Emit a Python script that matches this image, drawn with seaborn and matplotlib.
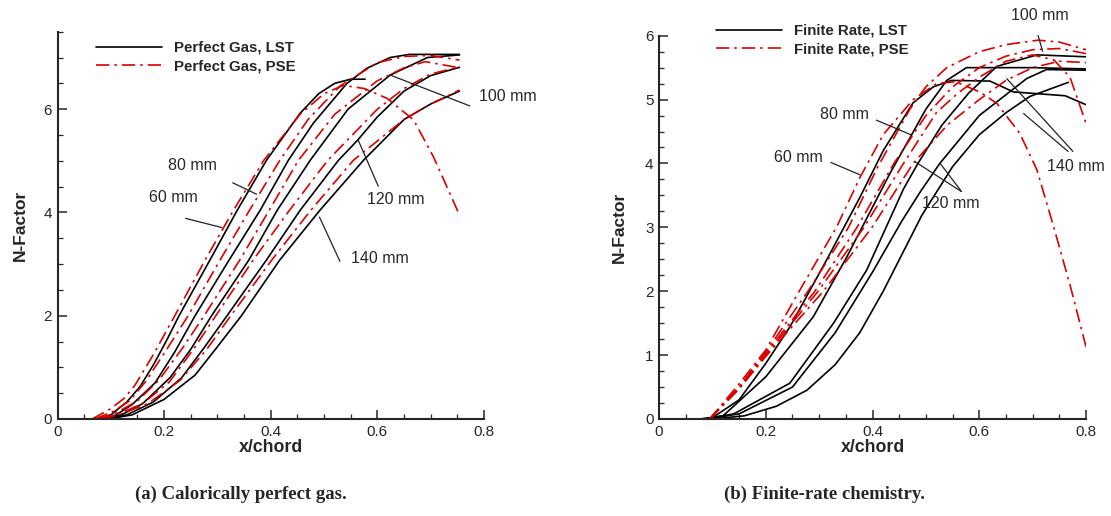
import numpy as np
import pandas as pd
import matplotlib
matplotlib.use("Agg")
import matplotlib.pyplot as plt
import seaborn as sns
from matplotlib.ticker import MultipleLocator, FormatStrFormatter
from matplotlib.lines import Line2D

# ---------------- data: (a) calorically perfect gas ----------------
cases = ["60 mm", "80 mm", "100 mm", "120 mm", "140 mm"]

pg_lst_x = {
    "60 mm": [0.075, 0.10, 0.13, 0.155, 0.18, 0.205, 0.228, 0.286, 0.337, 0.392, 0.455, 0.49, 0.52, 0.55, 0.577],
    "80 mm": [0.08, 0.11, 0.14, 0.183, 0.22, 0.258, 0.322, 0.38, 0.433, 0.48, 0.543, 0.58, 0.624, 0.66, 0.754],
    "100 mm": [0.085, 0.12, 0.16, 0.211, 0.25, 0.289, 0.359, 0.412, 0.474, 0.545, 0.624, 0.694, 0.754],
    "120 mm": [0.09, 0.13, 0.18, 0.233, 0.275, 0.318, 0.392, 0.455, 0.527, 0.563, 0.60, 0.65, 0.70, 0.754],
    "140 mm": [0.095, 0.14, 0.20, 0.258, 0.30, 0.345, 0.417, 0.492, 0.574, 0.65, 0.70, 0.754],
}
pg_lst_y = {
    "60 mm": [0.0, 0.08, 0.33, 0.63, 1.05, 1.53, 2.0, 3.08, 4.04, 5.01, 5.92, 6.3, 6.5, 6.58, 6.58],
    "80 mm": [0.0, 0.08, 0.28, 0.70, 1.30, 2.0, 3.08, 4.04, 5.01, 5.73, 6.5, 6.79, 7.0, 7.06, 7.06],
    "100 mm": [0.0, 0.08, 0.3, 0.80, 1.35, 2.0, 3.08, 4.04, 5.01, 6.0, 6.66, 7.0, 7.05],
    "120 mm": [0.0, 0.08, 0.33, 0.80, 1.38, 2.0, 3.08, 4.04, 5.01, 5.4, 5.85, 6.35, 6.65, 6.81],
    "140 mm": [0.0, 0.08, 0.38, 0.85, 1.40, 2.0, 3.08, 4.04, 5.01, 5.8, 6.1, 6.35],
}
pg_pse_x = {
    "60 mm": [0.065, 0.10, 0.125, 0.145, 0.18, 0.22, 0.277, 0.33, 0.387, 0.455, 0.50, 0.536, 0.575, 0.618, 0.668, 0.705, 0.754],
    "80 mm": [0.07, 0.105, 0.135, 0.165, 0.205, 0.245, 0.305, 0.36, 0.417, 0.47, 0.53, 0.60, 0.65, 0.70, 0.754],
    "100 mm": [0.075, 0.11, 0.15, 0.19, 0.235, 0.275, 0.342, 0.397, 0.452, 0.52, 0.60, 0.65, 0.69, 0.754],
    "120 mm": [0.08, 0.115, 0.16, 0.21, 0.255, 0.297, 0.367, 0.435, 0.507, 0.60, 0.65, 0.70, 0.754],
    "140 mm": [0.085, 0.12, 0.17, 0.23, 0.28, 0.325, 0.402, 0.475, 0.555, 0.65, 0.70, 0.754],
}
pg_pse_y = {
    "60 mm": [0.0, 0.2, 0.4, 0.65, 1.25, 2.0, 3.08, 4.04, 5.01, 5.9, 6.3, 6.46, 6.4, 6.21, 5.79, 5.08, 3.95],
    "80 mm": [0.0, 0.15, 0.35, 0.72, 1.35, 2.0, 3.08, 4.04, 5.01, 5.8, 6.45, 6.9, 7.02, 7.04, 6.95],
    "100 mm": [0.0, 0.12, 0.35, 0.75, 1.38, 2.0, 3.08, 4.04, 5.01, 5.9, 6.55, 6.8, 6.92, 6.8],
    "120 mm": [0.0, 0.10, 0.30, 0.72, 1.35, 2.0, 3.08, 4.04, 5.01, 6.0, 6.4, 6.68, 6.82],
    "140 mm": [0.0, 0.10, 0.30, 0.75, 1.35, 2.0, 3.08, 4.04, 5.01, 5.8, 6.1, 6.37],
}

# ---------------- data: (b) finite-rate chemistry ----------------
fr_lst_x = {
    "60 mm": [0.075, 0.10, 0.15, 0.20, 0.245, 0.314, 0.377, 0.42, 0.476, 0.514, 0.548, 0.62, 0.664, 0.761, 0.80],
    "80 mm": [0.08, 0.12, 0.20, 0.289, 0.352, 0.433, 0.47, 0.50, 0.539, 0.576, 0.70, 0.80],
    "100 mm": [0.085, 0.14, 0.245, 0.327, 0.389, 0.458, 0.485, 0.53, 0.58, 0.633, 0.708, 0.80],
    "120 mm": [0.09, 0.15, 0.25, 0.33, 0.40, 0.455, 0.489, 0.526, 0.60, 0.689, 0.726, 0.80],
    "140 mm": [0.10, 0.16, 0.22, 0.277, 0.33, 0.376, 0.42, 0.4925, 0.55, 0.60, 0.651, 0.695, 0.767],
}
fr_lst_y = {
    "60 mm": [0.0, 0.02, 0.30, 0.87, 1.44, 2.49, 3.48, 4.2, 4.95, 5.2, 5.30, 5.29, 5.12, 5.06, 4.92],
    "80 mm": [0.0, 0.05, 0.66, 1.6, 2.54, 3.85, 4.4, 4.85, 5.3, 5.5, 5.5, 5.48],
    "100 mm": [0.0, 0.08, 0.56, 1.5, 2.33, 3.6, 4.0, 4.6, 5.1, 5.52, 5.70, 5.67],
    "120 mm": [0.0, 0.08, 0.5, 1.35, 2.3, 3.1, 3.55, 4.0, 4.75, 5.33, 5.47, 5.46],
    "140 mm": [0.0, 0.05, 0.2, 0.45, 0.85, 1.35, 2.0, 3.19, 3.95, 4.45, 4.8, 5.05, 5.27],
}
fr_pse_x = {
    "60 mm": [0.095, 0.15, 0.20, 0.264, 0.333, 0.377, 0.42, 0.476, 0.52, 0.555, 0.601, 0.633, 0.676, 0.708, 0.738, 0.77, 0.80],
    "80 mm": [0.095, 0.15, 0.20, 0.279, 0.355, 0.41, 0.47, 0.50, 0.539, 0.60, 0.65, 0.71, 0.75, 0.80],
    "100 mm": [0.095, 0.15, 0.20, 0.292, 0.371, 0.44, 0.50, 0.55, 0.60, 0.65, 0.70, 0.75, 0.80],
    "120 mm": [0.095, 0.15, 0.20, 0.298, 0.384, 0.458, 0.52, 0.56, 0.60, 0.65, 0.70, 0.74, 0.77, 0.80],
    "140 mm": [0.095, 0.15, 0.20, 0.308, 0.399, 0.476, 0.54, 0.60, 0.65, 0.70, 0.75, 0.80],
}
fr_pse_y = {
    "60 mm": [0.0, 0.55, 1.08, 2.02, 3.01, 3.79, 4.45, 5.0, 5.25, 5.28, 5.12, 4.94, 4.47, 3.9, 3.05, 2.1, 1.13],
    "80 mm": [0.0, 0.5, 1.05, 2.0, 3.0, 3.95, 4.85, 5.2, 5.5, 5.75, 5.86, 5.93, 5.9, 5.78],
    "100 mm": [0.0, 0.5, 1.03, 2.0, 3.0, 4.0, 4.75, 5.2, 5.5, 5.68, 5.78, 5.8, 5.72],
    "120 mm": [0.0, 0.48, 1.0, 2.0, 3.0, 4.0, 4.8, 5.1, 5.35, 5.6, 5.7, 5.62, 5.35, 4.63],
    "140 mm": [0.0, 0.47, 0.98, 2.0, 3.0, 4.0, 4.6, 5.0, 5.3, 5.5, 5.6, 5.58],
}

# ---------------- style ----------------
sns.set_style("ticks")
plt.rcParams['font.family'] = ['Liberation Sans', 'DejaVu Sans']
plt.rcParams['axes.linewidth'] = 1.5

RED = "#dd0000"
DASHDOT = (0, (8, 3, 1.5, 3))
LW = 1.2


def long_frame(xd, yd, method):
    rows = []
    for c in cases:
        for i, (xv, yv) in enumerate(zip(xd[c], yd[c])):
            rows.append({"x": xv, "N": yv, "case": c, "method": method, "i": i})
    return pd.DataFrame(rows)


fig = plt.figure(figsize=(11.11, 5.16), dpi=100)
axL = fig.add_axes([0.05176, 0.188, 0.3839, 0.7506])
axR = fig.add_axes([0.5932, 0.188, 0.3843, 0.7428])


def draw(ax, lst_x, lst_y, pse_x, pse_y):
    df = pd.concat([long_frame(lst_x, lst_y, "LST"), long_frame(pse_x, pse_y, "PSE")])
    for c in cases:
        sub = df[(df.case == c) & (df.method == "LST")]
        sns.lineplot(data=sub, x="x", y="N", ax=ax, color="black", lw=LW,
                     sort=False, estimator=None, legend=False)
    for c in cases:
        sub = df[(df.case == c) & (df.method == "PSE")]
        sns.lineplot(data=sub, x="x", y="N", ax=ax, color=RED, lw=LW,
                     linestyle=DASHDOT, sort=False, estimator=None, legend=False)


def style_axes(ax, ymax, ymajor, yminor, ylabelpad):
    ax.set_xlim(0, 0.8)
    ax.set_ylim(0, ymax)
    ax.xaxis.set_major_locator(MultipleLocator(0.2))
    ax.xaxis.set_minor_locator(MultipleLocator(0.05))
    ax.yaxis.set_major_locator(MultipleLocator(ymajor))
    ax.yaxis.set_minor_locator(MultipleLocator(yminor))
    ax.xaxis.set_major_formatter(FormatStrFormatter('%g'))
    ax.yaxis.set_major_formatter(FormatStrFormatter('%g'))
    ax.tick_params(which='major', direction='in', length=6.5, width=1.1, labelsize=11, pad=4)
    ax.tick_params(which='minor', direction='in', length=3.5, width=0.9)
    sns.despine(ax=ax)
    ax.set_xlabel("x/chord", fontsize=12.8, fontweight='bold', labelpad=0)
    ax.set_ylabel("N-Factor", fontsize=12.5, fontweight='bold', labelpad=ylabelpad)


draw(axL, pg_lst_x, pg_lst_y, pg_pse_x, pg_pse_y)
draw(axR, fr_lst_x, fr_lst_y, fr_pse_x, fr_pse_y)
style_axes(axL, 7.5, 2, 0.5, 11)
style_axes(axR, 6, 1, 0.25, 13)


def legend(ax, labels, anchor):
    handles = [Line2D([], [], color="black", lw=LW),
               Line2D([], [], color=RED, lw=LW, linestyle=DASHDOT)]
    leg = ax.legend(handles, labels, loc='upper left', bbox_to_anchor=anchor,
                    frameon=False, handlelength=4.4, handletextpad=0.8,
                    labelspacing=0.3, borderpad=0, borderaxespad=0,
                    prop={'weight': 'bold', 'size': 10.8})
    leg.set_zorder(5)


legend(axL, ["Perfect Gas, LST", "Perfect Gas, PSE"], (0.091, 0.976))
legend(axR, ["Finite Rate, LST", "Finite Rate, PSE"], (0.134, 1.031))

ann_kw = dict(fontsize=11.5, va='center', ha='left', clip_on=False)
lead_kw = dict(color='#222222', lw=0.9, clip_on=False, solid_capstyle='butt')

# annotations (a)
axL.text(0.208, 4.90, "80 mm", **ann_kw)
axL.text(0.172, 4.29, "60 mm", **ann_kw)
axL.text(0.790, 6.24, "100 mm", **ann_kw)
axL.text(0.580, 4.26, "120 mm", **ann_kw)
axL.text(0.550, 3.11, "140 mm", **ann_kw)
axL.plot([0.2395, 0.309], [3.887, 3.705], **lead_kw)
axL.plot([0.328, 0.374], [4.577, 4.35], **lead_kw)
axL.plot([0.774, 0.624], [6.06, 6.66], **lead_kw)
axL.plot([0.602, 0.564], [4.50, 5.40], **lead_kw)
axL.plot([0.530, 0.491], [3.047, 3.918], **lead_kw)

# annotations (b)
axR.text(0.660, 6.32, "100 mm", **ann_kw)
axR.text(0.302, 4.76, "80 mm", **ann_kw)
axR.text(0.216, 4.10, "60 mm", **ann_kw)
axR.text(0.492, 3.37, "120 mm", **ann_kw)
axR.text(0.726, 3.96, "140 mm", **ann_kw)
axR.plot([0.710, 0.719], [6.01, 5.75], **lead_kw)
axR.plot([0.4066, 0.4729], [4.68, 4.446], **lead_kw)
axR.plot([0.3213, 0.3773], [4.018, 3.82], **lead_kw)
axR.plot([0.567, 0.4796], [3.558, 4.028], **lead_kw)
axR.plot([0.567, 0.5265], [3.558, 4.003], **lead_kw)
axR.plot([0.776, 0.651], [4.184, 5.333], **lead_kw)
axR.plot([0.767, 0.6825], [4.184, 4.786], **lead_kw)

cap_kw = dict(fontsize=13.5, fontweight='bold', ha='center', va='center',
              family=['Liberation Serif', 'DejaVu Serif'])
fig.text(241 / 1111, 1 - 494 / 516, "(a) Calorically perfect gas.", **cap_kw)
fig.text(825 / 1111, 1 - 494 / 516, "(b) Finite-rate chemistry.", **cap_kw)

fig.savefig("out.png", dpi=100)
